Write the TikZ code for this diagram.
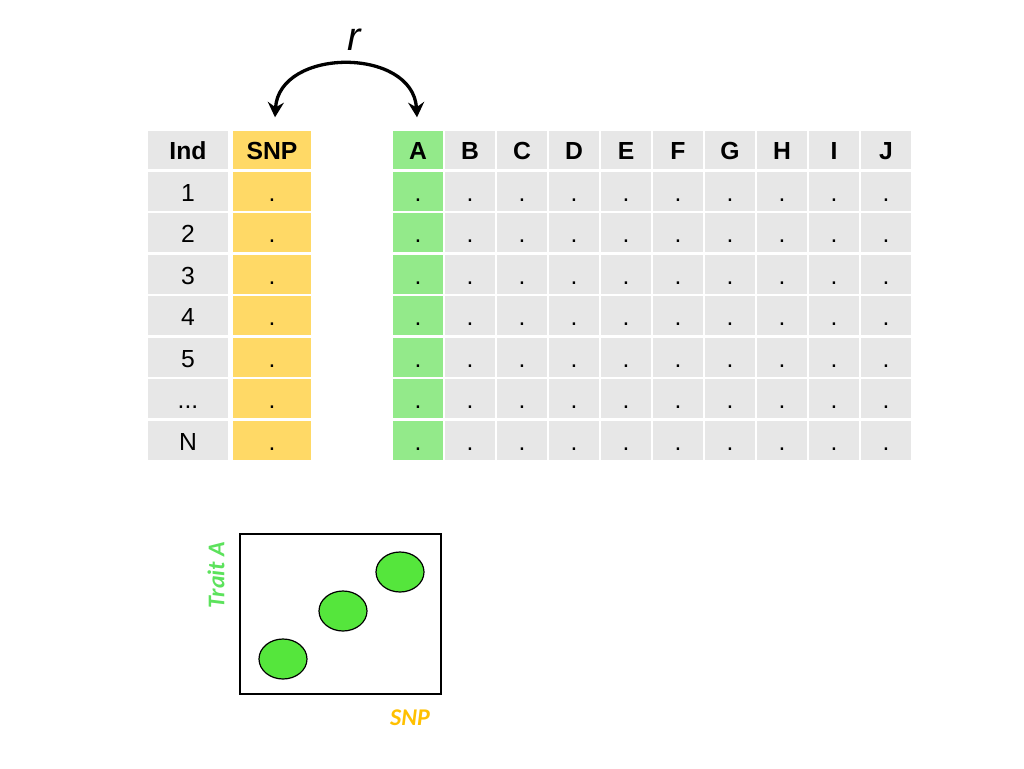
\documentclass[tikz,border=0pt]{standalone}
\usepackage{fontspec}
\setmainfont{Liberation Sans}
\newfontfamily\calfont{Carlito}
\usetikzlibrary{arrows.meta,shapes.geometric}
\definecolor{cellgray}{HTML}{E7E7E7}
\definecolor{snpyellow}{HTML}{FFD966}
\definecolor{traitgreen}{HTML}{93EA8A}
\definecolor{dotgreen}{HTML}{55E63C}
\definecolor{labgreen}{HTML}{5CE25C}
\definecolor{labgold}{HTML}{FFC000}
\newcommand\inddots{...}
\tikzset{
  cell/.style={minimum height=39pt, inner sep=0pt, text height=20pt, text depth=0pt,
    font=\fontsize{24.7}{28}\selectfont},
  hcell/.style={cell, minimum height=38pt, font=\fontsize{24.7}{28}\selectfont\bfseries},
  graycell/.style={fill=cellgray, minimum width=50pt},
  dot/.style={ellipse, draw=black, line width=1.2pt, fill=dotgreen, minimum width=48pt, minimum height=40pt, inner sep=0pt},
  axlabel/.style={font=\fontsize{24}{27}\selectfont\calfont\bfseries\itshape},
  rtip/.tip={Stealth[length=15pt,width=16pt,inset=5pt]}
}
\begin{document}
\begin{tikzpicture}[x=1pt,y=-1pt]
\useasboundingbox (0,0) rectangle (1024,768);
% header row
\node[hcell, fill=cellgray, minimum width=80pt] (h-ind) at (188,149.5) {Ind};
\node[hcell, fill=snpyellow, minimum width=78pt] (h-snp) at (272,149.5) {SNP};
\node[hcell, fill=traitgreen, minimum width=50pt] (h-A) at (418,149.5) {A};
\foreach \c [count=\k] in {B,C,D,E,F,G,H,I,J} {
  \node[hcell, graycell] (h-\c) at (418+52*\k,149.5) {\c};
}
% body rows
\foreach \lab [count=\r] in {1,2,3,4,5,\inddots,N} {
  \node[cell, fill=cellgray, minimum width=80pt] (c-ind-\r) at (188,149.5+41.5*\r) {\lab};
  \node[cell, fill=snpyellow, minimum width=78pt] (c-snp-\r) at (272,149.5+41.5*\r) {.};
  \node[cell, fill=traitgreen, minimum width=50pt] (c-A-\r) at (418,149.5+41.5*\r) {.};
  \foreach \c [count=\k] in {B,C,D,E,F,G,H,I,J} {
    \node[cell, graycell] (c-\c-\r) at (418+52*\k,149.5+41.5*\r) {.};
  }
}
% correlation arrow
\coordinate (arrL) at ([xshift=3pt,yshift=13pt]h-snp.north);
\coordinate (arrR) at ([xshift=-1pt,yshift=13pt]h-A.north);
\draw[line width=3.3pt, rtip-rtip]
  (arrL) .. controls (279,47) and (413,47) .. (arrR);
\node[font=\fontsize{40}{44}\selectfont\itshape] (rlab) at (354,40) {r};
% scatter plot
\node[draw=black, line width=1.2pt, minimum width=201pt, minimum height=160pt, inner sep=0pt] (plot) at (340.5,614) {};
\node[dot] (p1) at (283,659) {};
\node[dot] (p2) at (343,611) {};
\node[dot] (p3) at (400,572) {};
\node[axlabel, text=labgreen, rotate=90] (ylab) at (216,575) {Trait A};
\node[axlabel, text=labgold] (xlab) at (410,718) {SNP};
\end{tikzpicture}
\end{document}
